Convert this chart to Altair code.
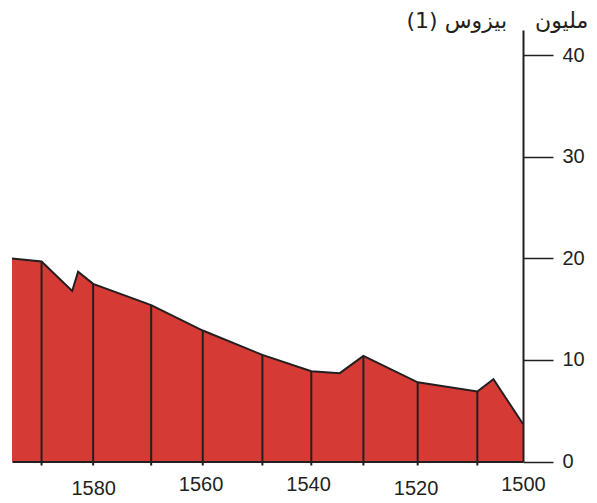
import altair as alt
import pandas as pd

# Data (year, million pesos)
years = [1595.1, 1589.6, 1583.9, 1582.8, 1580.0, 1569.2, 1559.6, 1548.5,
         1539.4, 1534.1, 1529.7, 1519.6, 1508.5, 1505.5, 1500.0]
values = [20.0, 19.7, 16.8, 18.7, 17.5, 15.4, 12.9, 10.5,
          8.9, 8.7, 10.4, 7.8, 6.9, 8.1, 3.7]
rule_years = [1589.6, 1580.0, 1569.2, 1559.6, 1548.5, 1539.4, 1529.7, 1519.6, 1508.5]
x_ticks = [1500, 1520, 1540, 1560, 1580]
y_ticks = [0, 10, 20, 30, 40]
title_text = "مليون\u00a0\u00a0\u00a0 بيزوس (1)"

df = pd.DataFrame({"year": years, "value": values})
df_rules = df[df["year"].isin(rule_years)].reset_index(drop=True)

W = 511
H = 431.5
INK = "#231f20"
RED = "#d53a35"
FONT = "Liberation Sans"

xscale = alt.Scale(domain=[1500, 1595.1], reverse=True, nice=False, zero=False)
yscale = alt.Scale(domain=[0, 42.5], nice=False, zero=True)

x_axis = alt.Axis(
    values=x_ticks, ticks=False, tickSize=0, grid=False, title=None, format="d",
    domainColor=INK, domainWidth=2, labelFont=FONT, labelFontSize=20,
    labelColor=INK, labelFlush=False, labelOverlap=False,
    labelPadding={"condition": {"test": "datum.value == 1580 || datum.value == 1520",
                                "value": 16.5}, "value": 13},
    zindex=1,
)
y_axis = alt.Axis(
    orient="right", values=y_ticks, tickSize=30, tickWidth=1.5, tickColor=INK,
    domainColor=INK, domainWidth=2, grid=False, title=None,
    labelFont=FONT, labelFontSize=20, labelColor=INK, labelPadding=9,
    zindex=1,
)

area = alt.Chart(df).mark_area(color=RED, opacity=1).encode(
    x=alt.X("year:Q", scale=xscale, axis=x_axis),
    y=alt.Y("value:Q", scale=yscale, axis=y_axis),
)
line = alt.Chart(df).mark_line(color=INK, strokeWidth=2).encode(
    x=alt.X("year:Q", scale=xscale),
    y=alt.Y("value:Q", scale=yscale),
)
rules = alt.Chart(df_rules).mark_rule(color=INK, strokeWidth=2).encode(
    x=alt.X("year:Q", scale=xscale),
    y=alt.Y("value:Q", scale=yscale),
    y2=alt.value(H + 4),
)

chart = alt.layer(area, rules, line).properties(
    width=W,
    height=H,
    title=alt.TitleParams(
        text=title_text, anchor="end", frame="bounds", fontSize=22,
        font="DejaVu Sans", fontWeight="normal", color=INK,
        baseline="alphabetic", offset=0, dy=20, dx=4,
    ),
    autosize=alt.AutoSizeParams(type="none"),
    padding={"left": 4, "top": 22, "right": 66, "bottom": 40},
).configure_view(stroke=None)

chart.save("out.html", embed_options={"renderer": "svg", "actions": False})
